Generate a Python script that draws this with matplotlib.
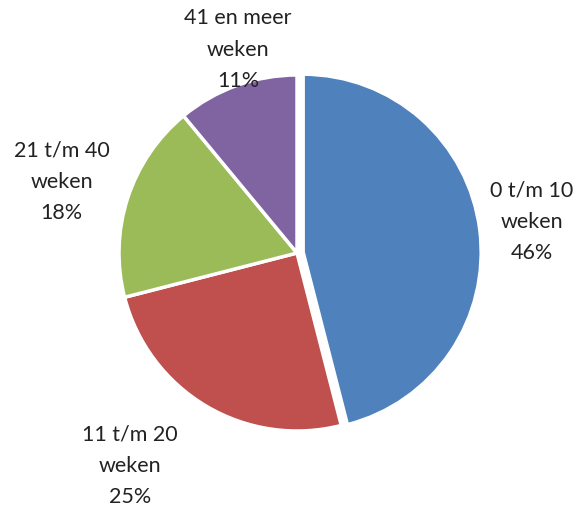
import numpy as np
import matplotlib.pyplot as plt

labels = ['0 t/m 10\nweken', '11 t/m 20\nweken', '21 t/m 40\nweken', '41 en meer\nweken']
values = [46, 25, 18, 11]
colors = ['#4F81BD', '#C0504D', '#9BBB59', '#8064A2']

# label placement per wedge: distance (fraction of radius), angle shift (deg)
label_dist = [1.33, 1.52, 1.38, 1.19]
label_shift = [0.3, -7.6, 1.2, -3.6]

fig = plt.figure(figsize=(5.84, 5.08), dpi=100)
ax = fig.add_axes([0.0, 0.0, 1.0, 1.0])

wedges, _ = ax.pie(values, colors=colors, startangle=90, counterclock=False,
                   explode=[0.035, 0, 0, 0],
                   wedgeprops=dict(edgecolor='white', linewidth=2.5))

for w, lab, v, d, s in zip(wedges, labels, values, label_dist, label_shift):
    ang = np.deg2rad((w.theta1 + w.theta2) / 2 + s)
    x = d * np.cos(ang)
    y = d * np.sin(ang)
    ax.text(x, y, f'{lab}\n{v}%', ha='center', va='center',
            fontsize=15.5, family='Lato', color='#222222', linespacing=1.7)

# place the pie: center ~ (297, 253) px, radius ~178 px
W, H = 584, 508
r = 178
cx, cy = 297, 253
ax.set_xlim(-cx / r, (W - cx) / r)
ax.set_ylim(-(H - cy) / r, cy / r)
ax.set_aspect('equal')
ax.axis('off')

fig.savefig('out.png', dpi=100)
